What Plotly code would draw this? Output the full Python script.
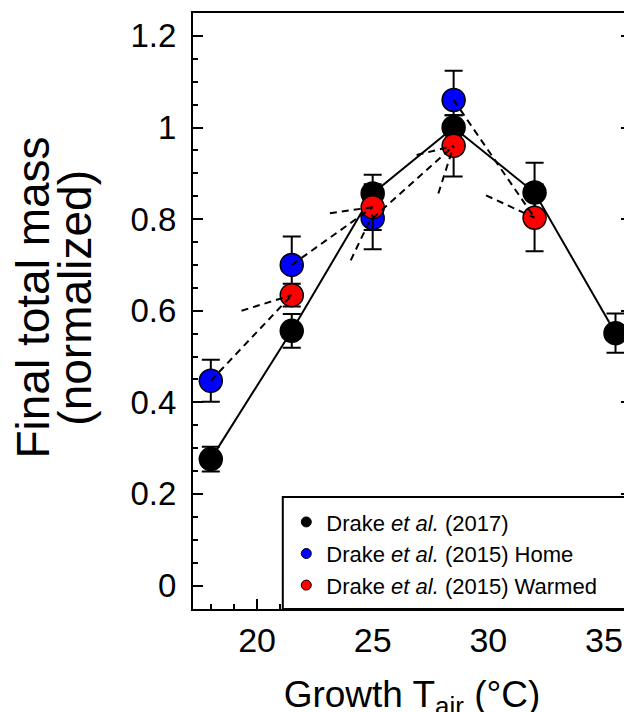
import plotly.graph_objects as go

# ---- data ----
temp_2017 = [18, 21.5, 25, 28.5, 32, 35.5]
mass_2017 = [0.276, 0.556, 0.856, 1.000, 0.858, 0.551]
err_2017 = [0.027, 0.037, 0.041, 0.027, 0.065, 0.043]

temp_home = [18, 21.5, 25, 28.5]
mass_home = [0.447, 0.700, 0.802, 1.060]
err_home = [0.046, 0.062, 0.068, 0.064]

temp_warm = [21.5, 25, 28.5, 32]
mass_warm = [0.634, 0.826, 0.960, 0.803]
err_warm = [0.025, 0.050, 0.067, 0.073]

# dashed connector segments: start (T, mass) -> end (T, mass)
dash_t0 = [18, 19.33, 21.5, 23.15, 24.05, 25, 26.9, 27.84, 28.5, 29.9]
dash_m0 = [0.447, 0.600, 0.700, 0.813, 0.710, 0.802, 0.940, 0.856, 1.060, 0.852]
dash_t1 = [21.5, 21.5, 25, 25, 25, 28.5, 28.5, 28.5, 32, 32]
dash_m1 = [0.634, 0.634, 0.826, 0.826, 0.810, 0.960, 0.960, 0.960, 0.803, 0.803]

labels = ["Drake <i>et al.</i> (2017)",
          "Drake <i>et al.</i> (2015) Home",
          "Drake <i>et al.</i> (2015) Warmed"]
colors = ["#000000", "#0000ff", "#ff0000"]
y_title_lines = ["Final total mass", "(normalized)"]

FONT = "Liberation Sans, Arial, sans-serif"

fig = go.Figure()

# solid line for 2017
fig.add_trace(go.Scatter(x=temp_2017, y=mass_2017, mode="lines",
                         line=dict(color="black", width=2), showlegend=False,
                         hoverinfo="skip"))

series = [(temp_2017, mass_2017, err_2017), (temp_home, mass_home, err_home),
          (temp_warm, mass_warm, err_warm)]
for (tx, my, er), col in zip(series, colors):
    fig.add_trace(go.Scatter(
        x=tx, y=my, mode="markers", showlegend=False,
        marker=dict(size=23, color=col, line=dict(color="black", width=1.5)),
        error_y=dict(type="data", array=er, visible=True, color="black",
                     thickness=2, width=9)))

# dashed connectors
dx, dy = [], []
for a, b, c, d in zip(dash_t0, dash_m0, dash_t1, dash_m1):
    dx += [a, c, None]
    dy += [b, d, None]
fig.add_trace(go.Scatter(x=dx, y=dy, mode="lines",
                         line=dict(color="black", width=2, dash="7px,5px"),
                         showlegend=False, hoverinfo="skip"))

# legend-only entries
for lab, col in zip(labels, colors):
    fig.add_trace(go.Scatter(x=[None], y=[None], mode="markers", name=lab,
                             marker=dict(size=10, color=col,
                                         line=dict(color="black", width=1))))

# legend frame
fig.add_shape(type="rect", xref="paper", yref="paper", x0=0.205, x1=1.02,
              y0=0, y1=0.188, line=dict(color="black", width=2),
              fillcolor="white", layer="above")

# y-axis title (two tightly spaced lines)
for txt, xp in zip(y_title_lines, [-0.366, -0.270]):
    fig.add_annotation(text=txt, xref="paper", yref="paper", x=xp, y=0.522,
                       xanchor="center", yanchor="middle", textangle=-90,
                       showarrow=False, font=dict(size=46, family=FONT),
                       borderpad=0)

fig.update_layout(
    width=624, height=712,
    margin=dict(l=185, r=1, t=5, b=111, autoexpand=False),
    paper_bgcolor="white", plot_bgcolor="white",
    font=dict(family=FONT, color="black"),
    showlegend=True,
    legend=dict(x=0.213, y=0.181, xanchor="left", yanchor="top",
                bgcolor="rgba(0,0,0,0)", borderwidth=0,
                font=dict(size=22, family=FONT), tracegroupgap=0,
                itemsizing="trace"),
    xaxis=dict(range=[17.23, 36.17], tickmode="linear", tick0=0, dtick=5,
               automargin=False,
               ticks="inside", ticklen=10, tickwidth=2, tickcolor="black",
               minor=dict(ticks="inside", dtick=1, ticklen=5, tickwidth=1.5,
                          tickcolor="black"),
               showline=True, linecolor="black", linewidth=2, mirror=True,
               showgrid=False, zeroline=False,
               tickfont=dict(size=34, family=FONT), ticklabelstandoff=0,
               title=dict(text="Growth T<sub>air</sub> (°C)",
                          font=dict(size=37, family=FONT), standoff=34)),
    yaxis=dict(range=[-0.0513, 1.25], tickmode="linear", tick0=0, dtick=0.2,
               automargin=False,
               ticks="inside", ticklen=10, tickwidth=2, tickcolor="black",
               minor=dict(ticks="inside", dtick=0.05, ticklen=5, tickwidth=1.5,
                          tickcolor="black"),
               showline=True, linecolor="black", linewidth=2, mirror="ticks",
               showgrid=False, zeroline=False,
               tickfont=dict(size=33, family=FONT), ticklabelstandoff=8),
)

fig.write_html("out.html")
